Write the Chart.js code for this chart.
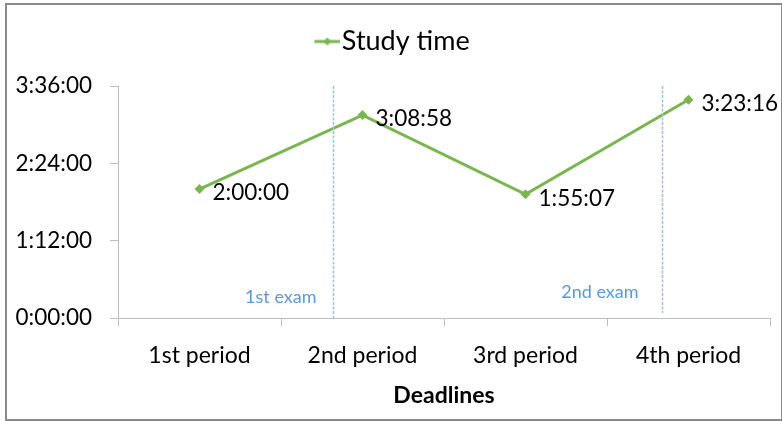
<!DOCTYPE html>
<html>
<head>
<meta charset="utf-8">
<script src="https://cdn.jsdelivr.net/npm/chart.js@4/dist/chart.umd.min.js"></script>
<style>
  html, body { margin: 0; padding: 0; background: #fff; }
  #wrap { width: 782px; height: 421px; }
</style>
</head>
<body>
<div id="wrap"><canvas id="chart" width="782" height="421"></canvas></div>
<script>
/**
 * Study time per period, with exam markers.
 * Values are in seconds (y axis shows h:mm:ss).
 */
const periods = ["1st period", "2nd period", "3rd period", "4th period"];
const studySeconds = [7200, 11338, 6907, 12196]; // 2:00:00, 3:08:58, 1:55:07, 3:23:16
const yTickStep = 4320; // 1:12:00
const yMax = 12960; // 3:36:00

// exam markers sit between categories (fractional category index)
const examLabels = ["1st exam", "2nd exam"];
const examPositions = [0.82, 2.84];

const GREEN = "#7ab552";
const BLUE = "#5b9bd5";
const LINE_BLUE = "#9cc2e8";
const FONT = "Lato, 'Open Sans', sans-serif";

/** seconds -> h:mm:ss */
function fmtTime(sec) {
  const h = Math.floor(sec / 3600);
  const m = Math.floor((sec % 3600) / 60);
  const s = Math.round(sec % 60);
  return h + ":" + String(m).padStart(2, "0") + ":" + String(s).padStart(2, "0");
}

// legend marker: short line with a diamond, pushed to the right so it sits close to the text
function legendMarker() {
  const c = document.createElement("canvas");
  c.width = 52;
  c.height = 10;
  const g = c.getContext("2d");
  g.strokeStyle = GREEN;
  g.lineWidth = 3;
  g.beginPath();
  g.moveTo(26, 5);
  g.lineTo(52, 5);
  g.stroke();
  g.fillStyle = GREEN;
  g.beginPath();
  g.moveTo(39, 1);
  g.lineTo(43, 5);
  g.lineTo(39, 9);
  g.lineTo(35, 5);
  g.closePath();
  g.fill();
  return c;
}

// extra gap under the legend
const legendGapPlugin = {
  id: "legendGap",
  beforeInit(chart) {
    const legend = chart.legend;
    const origFit = legend.fit;
    legend.fit = function () {
      origFit.call(this);
      this.height += 21;
    };
  },
};

// outer frame
const framePlugin = {
  id: "frame",
  beforeDraw(chart) {
    const ctx = chart.ctx;
    ctx.save();
    ctx.strokeStyle = "#8a8a8a";
    ctx.lineWidth = 2;
    ctx.strokeRect(6, 4, 776, 416);
    ctx.restore();
  },
};

// dashed exam lines + their captions
const examPlugin = {
  id: "exams",
  afterDatasetsDraw(chart) {
    const { ctx, chartArea, scales } = chart;
    examPositions.forEach((pos, i) => {
      const x = Math.round(scales.x.getPixelForValue(pos)) + 0.5;
      const bottom = chartArea.bottom - (i === 1 ? 5 : 0);
      ctx.save();
      ctx.strokeStyle = LINE_BLUE;
      ctx.lineWidth = 1.5;
      ctx.setLineDash([3, 1.5]);
      ctx.beginPath();
      ctx.moveTo(x, chartArea.top);
      ctx.lineTo(x, bottom);
      ctx.stroke();
      ctx.setLineDash([]);
      ctx.fillStyle = BLUE;
      ctx.font = "18px " + FONT;
      ctx.textAlign = "right";
      ctx.textBaseline = "middle";
      ctx.fillText(examLabels[i], x - (i === 1 ? 24 : 17), chartArea.bottom - (i === 1 ? 26 : 21));
      ctx.restore();
    });
  },
};

// value labels to the right of each point
const valueLabelPlugin = {
  id: "valueLabels",
  afterDatasetsDraw(chart) {
    const ctx = chart.ctx;
    const meta = chart.getDatasetMeta(0);
    ctx.save();
    ctx.fillStyle = "#000";
    ctx.font = "22.5px " + FONT;
    ctx.textAlign = "left";
    ctx.textBaseline = "middle";
    meta.data.forEach((pt, i) => {
      ctx.fillText(fmtTime(studySeconds[i]), pt.x + 13, pt.y + 4);
    });
    ctx.restore();
  },
};

const marker = legendMarker();

new Chart(document.getElementById("chart"), {
  type: "line",
  data: {
    labels: periods,
    datasets: [
      {
        label: "Study time",
        data: studySeconds,
        borderColor: GREEN,
        backgroundColor: GREEN,
        borderWidth: 3,
        pointStyle: "rectRot",
        pointRadius: 5,
        pointBorderWidth: 0,
        tension: 0,
        fill: false,
      },
    ],
  },
  options: {
    responsive: false,
    animation: false,
    layout: { padding: { left: 0, right: 12, top: 0, bottom: 0 } },
    plugins: {
      legend: {
        display: true,
        labels: {
          usePointStyle: true,
          pointStyle: marker,
          pointStyleWidth: 28,
          color: "#000",
          padding: 28,
          font: { family: FONT, size: 27 },
        },
      },
      tooltip: { enabled: false },
    },
    scales: {
      x: {
        offset: true,
        grid: {
          offset: true,
          drawOnChartArea: false,
          drawTicks: true,
          tickLength: 8,
          color: "#bdbdbd",
        },
        border: { color: "#bdbdbd" },
        ticks: {
          color: "#000",
          padding: 16,
          font: { family: FONT, size: 23 },
          maxRotation: 0,
        },
        title: {
          display: true,
          text: "Deadlines",
          color: "#000",
          font: { family: FONT, size: 23, weight: "bold" },
          padding: { top: 6, bottom: 12 },
        },
        afterFit(scale) {
          scale.height = 103;
        },
      },
      y: {
        min: 0,
        max: yMax,
        grid: {
          drawOnChartArea: false,
          drawTicks: true,
          tickLength: 8,
          color: "#bdbdbd",
        },
        border: { color: "#bdbdbd" },
        ticks: {
          stepSize: yTickStep,
          color: "#000",
          padding: 18,
          font: { family: FONT, size: 22.5 },
          callback: (v) => fmtTime(v),
        },
        afterFit(scale) {
          scale.width = 118;
        },
      },
    },
  },
  plugins: [legendGapPlugin, framePlugin, examPlugin, valueLabelPlugin],
});
</script>
</body>
</html>
